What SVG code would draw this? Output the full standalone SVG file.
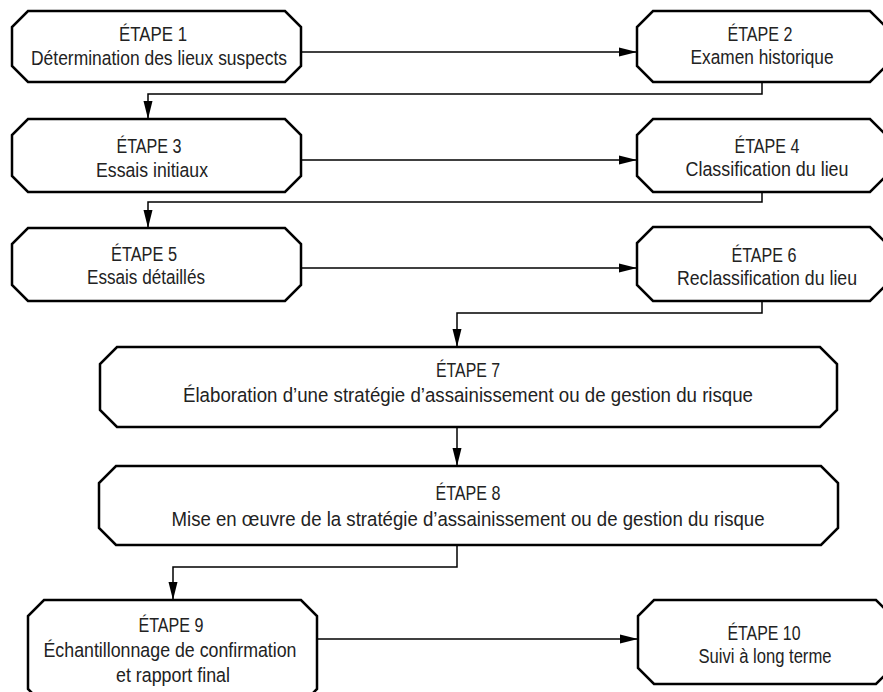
<svg xmlns="http://www.w3.org/2000/svg" width="883" height="692" viewBox="0 0 883 692">
<style>
.n{fill:#fff;stroke:#000;stroke-width:2.5;stroke-linejoin:miter}
.c{fill:none;stroke:#000;stroke-width:1.5}
text{font-family:"Liberation Sans",Arial,sans-serif;font-size:20.5px;fill:#222;text-anchor:middle}
</style>
<defs>
<marker id="ah" markerUnits="userSpaceOnUse" markerWidth="18" markerHeight="10" refX="18" refY="5" orient="auto">
<path d="M0,0.5 L18,5 L0,9.5 z" fill="#000"/>
</marker>
</defs>
<rect width="883" height="692" fill="#fff"/>
<g id="connectors">
<path class="c" d="M301,52 H637" marker-end="url(#ah)"/>
<path class="c" d="M762,82 V94 H148 V119" marker-end="url(#ah)"/>
<path class="c" d="M301,160 H637" marker-end="url(#ah)"/>
<path class="c" d="M762,192 V202 H148 V228" marker-end="url(#ah)"/>
<path class="c" d="M301,268 H637" marker-end="url(#ah)"/>
<path class="c" d="M762,301 V313 H457 V347" marker-end="url(#ah)"/>
<path class="c" d="M457,427 V466" marker-end="url(#ah)"/>
<path class="c" d="M457,545 V567 H173 V600" marker-end="url(#ah)"/>
<path class="c" d="M317,639 H638" marker-end="url(#ah)"/>
</g>
<g id="node1">
<polygon class="n" points="28,11 285,11 301,27 301,66 285,82 28,82 12,66 12,27"/>
<text x="153" y="41" textLength="68" lengthAdjust="spacingAndGlyphs">ÉTAPE 1</text>
<text x="159" y="65" textLength="256" lengthAdjust="spacingAndGlyphs">Détermination des lieux suspects</text>
</g>
<g id="node2">
<polygon class="n" points="653,11 870,11 886,27 886,66 870,82 653,82 637,66 637,27"/>
<text x="760" y="41" textLength="65" lengthAdjust="spacingAndGlyphs">ÉTAPE 2</text>
<text x="762" y="64" textLength="143" lengthAdjust="spacingAndGlyphs">Examen historique</text>
</g>
<g id="node3">
<polygon class="n" points="28,119 285,119 301,135 301,176 285,192 28,192 12,176 12,135"/>
<text x="149" y="153" textLength="65" lengthAdjust="spacingAndGlyphs">ÉTAPE 3</text>
<text x="152" y="177" textLength="112" lengthAdjust="spacingAndGlyphs">Essais initiaux</text>
</g>
<g id="node4">
<polygon class="n" points="653,119 870,119 886,135 886,176 870,192 653,192 637,176 637,135"/>
<text x="767" y="153" textLength="65" lengthAdjust="spacingAndGlyphs">ÉTAPE 4</text>
<text x="767" y="176" textLength="163" lengthAdjust="spacingAndGlyphs">Classification du lieu</text>
</g>
<g id="node5">
<polygon class="n" points="28,228 285,228 301,244 301,285 285,301 28,301 12,285 12,244"/>
<text x="144" y="261" textLength="66" lengthAdjust="spacingAndGlyphs">ÉTAPE 5</text>
<text x="146" y="284" textLength="118" lengthAdjust="spacingAndGlyphs">Essais détaillés</text>
</g>
<g id="node6">
<polygon class="n" points="653,227 870,227 886,243 886,285 870,301 653,301 637,285 637,243"/>
<text x="764" y="262" textLength="65" lengthAdjust="spacingAndGlyphs">ÉTAPE 6</text>
<text x="767" y="285" textLength="180" lengthAdjust="spacingAndGlyphs">Reclassification du lieu</text>
</g>
<g id="node7">
<polygon class="n" points="117,347 820,347 837,364 837,410 820,427 117,427 100,410 100,364"/>
<text x="468" y="377" textLength="64" lengthAdjust="spacingAndGlyphs">ÉTAPE 7</text>
<text x="468" y="402" textLength="570" lengthAdjust="spacingAndGlyphs">Élaboration d’une stratégie d’assainissement ou de gestion du risque</text>
</g>
<g id="node8">
<polygon class="n" points="116,466 821,466 838,483 838,528 821,545 116,545 99,528 99,483"/>
<text x="468" y="500" textLength="65" lengthAdjust="spacingAndGlyphs">ÉTAPE 8</text>
<text x="468" y="526" textLength="593" lengthAdjust="spacingAndGlyphs">Mise en œuvre de la stratégie d’assainissement ou de gestion du risque</text>
</g>
<g id="node9">
<polygon class="n" points="44,600 301,600 317,616 317,689 301,705 44,705 28,689 28,616"/>
<text x="171" y="632" textLength="65" lengthAdjust="spacingAndGlyphs">ÉTAPE 9</text>
<text x="170" y="657" textLength="253" lengthAdjust="spacingAndGlyphs">Échantillonnage de confirmation</text>
<text x="173" y="682" textLength="114" lengthAdjust="spacingAndGlyphs">et rapport final</text>
</g>
<g id="node10">
<polygon class="n" points="654,600 876,600 892,616 892,668 876,684 654,684 638,668 638,616"/>
<text x="764" y="640" textLength="73" lengthAdjust="spacingAndGlyphs">ÉTAPE 10</text>
<text x="765" y="663" textLength="133" lengthAdjust="spacingAndGlyphs">Suivi à long terme</text>
</g>
</svg>
